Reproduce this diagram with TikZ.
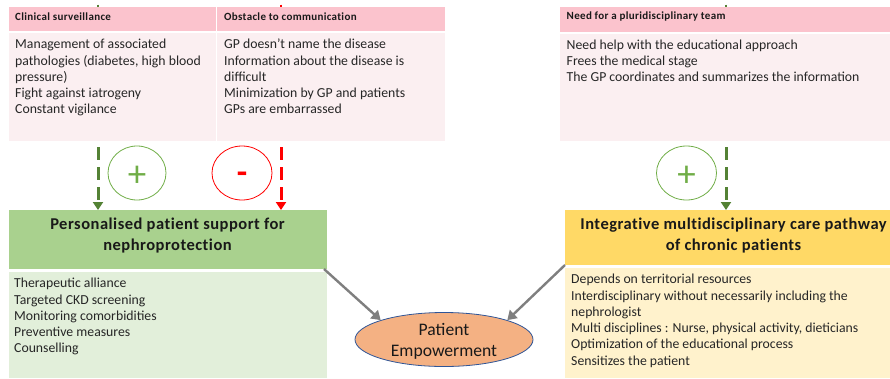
\documentclass[tikz,border=0pt]{standalone}
\usepackage{fontspec}
\setmainfont{Carlito}
\newfontfamily\headfont[LetterSpace=3,Ligatures=NoCommon]{Carlito}
\usetikzlibrary{arrows.meta,shapes.geometric}
\definecolor{pinkhead}{HTML}{FBC3CD}
\definecolor{pinkbody}{HTML}{FBEFF1}
\definecolor{greenhead}{HTML}{A9D18E}
\definecolor{greenbody}{HTML}{E2EFDA}
\definecolor{yellowhead}{HTML}{FFD966}
\definecolor{yellowbody}{HTML}{FFF2CC}
\definecolor{orangefill}{HTML}{F4B183}
\definecolor{ellipseline}{HTML}{2F5597}
\definecolor{plusgreen}{HTML}{70AD47}
\definecolor{dashgreen}{HTML}{548235}
\definecolor{arrowgray}{HTML}{7F7F7F}
\tikzset{
  panel/.style={anchor=north west,inner sep=0pt,outer sep=0pt,draw=none},
  listtext/.style={anchor=north west,inner sep=0pt,align=left,text=black!85,font=\fontsize{13.75}{16.25}\selectfont},
  smallhead/.style={anchor=west,inner sep=0pt,font=\headfont\bfseries\fontsize{11}{13}\selectfont,text=black!90},
  bighead/.style={align=center,inner sep=0pt,font=\headfont\bfseries\fontsize{16.5}{21}\selectfont,text=black!90},
  signcircle/.style={ellipse,draw,line width=0.8pt,inner sep=0pt,fill=none},
  dasharrow/.style={line width=3pt,dash pattern=on 13pt off 7pt,-{Triangle[length=8pt,width=10pt]}},
  grayarrow/.style={line width=2.4pt,draw=arrowgray,-{Triangle[length=9pt,width=11pt]}},
}
\begin{document}
\begin{tikzpicture}[x=1pt,y=-1pt]
\useasboundingbox (0,0) rectangle (890,378);
% header and body panels
\node[panel,fill=pinkhead,minimum width=207pt,minimum height=23.5pt] (h1) at (9,7) {};
\node[panel,fill=pinkhead,minimum width=228pt,minimum height=23.5pt] (h2) at (217,7) {};
\node[panel,fill=pinkhead,minimum width=330pt,minimum height=24.5pt] (h3) at (560,7) {};
\node[panel,fill=pinkbody,minimum width=207pt,minimum height=108pt] (b1) at (9,33) {};
\node[panel,fill=pinkbody,minimum width=228pt,minimum height=108pt] (b2) at (217,33) {};
\node[panel,fill=pinkbody,minimum width=330pt,minimum height=107pt] (b3) at (560,34) {};
\node[panel,fill=greenhead,minimum width=318pt,minimum height=59pt] (green) at (9,210) {};
\node[panel,fill=greenbody,minimum width=318pt,minimum height=106pt] (greenb) at (9,272) {};
\node[panel,fill=yellowhead,minimum width=325pt,minimum height=55pt] (yellow) at (565,210) {};
\node[panel,fill=yellowbody,minimum width=325pt,minimum height=110pt] (yellowb) at (565,267.5) {};
% small headers
\node[smallhead] (t1) at (15,16.5) {Clinical surveillance};
\node[smallhead] (t2) at (224,16.5) {Obstacle to communication};
\node[smallhead] (t3) at (566.5,16.5) {Need for a pluridisciplinary team};
% list texts
\node[listtext] (l1) at (15,39) {Management of associated\\pathologies (diabetes, high blood\\pressure)\\Fight against iatrogeny\\Constant vigilance};
\node[listtext] (l2) at (224,39) {GP doesn’t name the disease\\Information about the disease is\\difficult\\Minimization by GP and patients\\GPs are embarrassed};
\node[listtext] (l3) at (566.5,39.5) {Need help with the educational approach\\Frees the medical stage\\The GP coordinates and summarizes the information};
\node[listtext] (l4) at (14,278) {Therapeutic alliance\\Targeted CKD screening\\Monitoring comorbidities\\Preventive measures\\Counselling};
\node[listtext] (l5) at (571,274) {Depends on territorial resources\\Interdisciplinary without necessarily including the\\nephrologist\\Multi disciplines : Nurse, physical activity, dieticians\\Optimization of the educational process\\Sensitizes the patient};
% big headers
\node[bighead] (g1) at (167.5,235.5) {Personalised patient support for\\nephroprotection};
\node[bighead] (g2) at (733.5,235.5) {Integrative multidisciplinary care pathway\\of chronic patients};
% sign circles
\node[signcircle,draw=plusgreen,minimum width=58pt,minimum height=54pt,text=plusgreen,font=\fontsize{37}{37}\selectfont] (c1) at (137,173) {\smash{\raisebox{-13pt}{+}}};
\node[signcircle,draw=red,minimum width=60pt,minimum height=54pt,text=red,font=\bfseries\fontsize{34}{34}\selectfont] (c2) at (242,173) {\smash{\raisebox{-10.5pt}{-}}};
\node[signcircle,draw=plusgreen,minimum width=60pt,minimum height=54pt,text=plusgreen,font=\fontsize{37}{37}\selectfont] (c3) at (686.5,173) {\smash{\raisebox{-13pt}{+}}};
% patient empowerment
\node[ellipse,draw=ellipseline,line width=0.8pt,fill=orangefill,minimum width=178pt,minimum height=54pt,inner sep=0pt] (pe) at (444,339.5) {};
\node[align=center,inner sep=0pt,font=\fontsize{17.6}{21}\selectfont,text=black!90] (pet) at (444,341.5) {Patient\\Empowerment};
% free ends of the dashed connectors
\coordinate (s1) at (98,147);
\coordinate (s2) at (281,147);
\coordinate (s3) at (726,147);
\draw[dasharrow,draw=dashgreen] (s1) -- (s1 |- green.north);
\draw[dasharrow,draw=red] (s2) -- (s2 |- green.north);
\draw[dasharrow,draw=dashgreen] (s3) -- (s3 |- yellow.north);
% stubs above the top panels
\draw[line width=2pt,draw=dashgreen] (98,4.5) -- (98,7);
\draw[line width=2pt,draw=red] (281,4.5) -- (281,7);
\draw[line width=2pt,draw=dashgreen] (726,4.5) -- (726,7);
% grey connectors
\draw[grayarrow] (green.south east) ++(-3,0) -- (pe.163);
\draw[grayarrow] (yellow.south west) -- (pe.17);
\end{tikzpicture}
\end{document}
